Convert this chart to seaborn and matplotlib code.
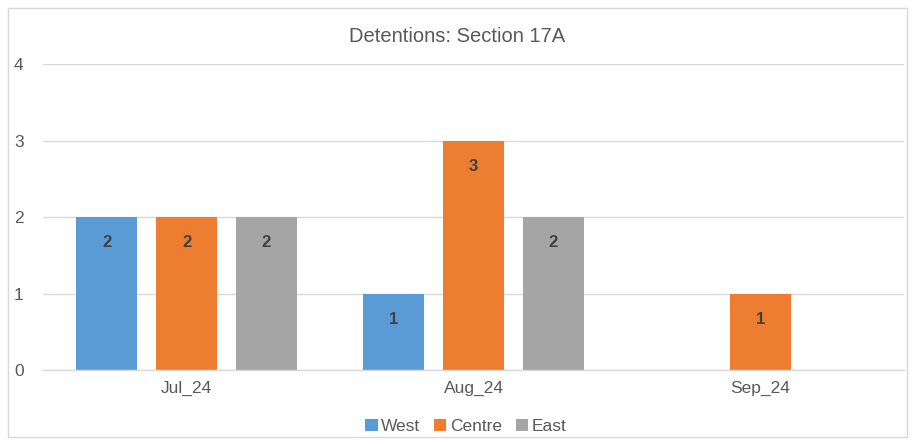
import matplotlib
matplotlib.use("Agg")
import matplotlib.pyplot as plt
import seaborn as sns
import pandas as pd
import numpy as np
from matplotlib.patches import Rectangle

months = ["Jul_24", "Aug_24", "Sep_24"]
regions = ["West", "Centre", "East"]
west = [2, 1, np.nan]
centre = [2, 3, 1]
east = [2, 2, np.nan]
colors = ["#5B9BD5", "#ED7D31", "#A5A5A5"]

df = pd.DataFrame({
    "Month": months * 3,
    "Region": [r for r in regions for _ in months],
    "Count": west + centre + east,
})

sns.set_theme(style="white")
plt.rcParams["font.family"] = ["Liberation Sans", "DejaVu Sans"]

fig = plt.figure(figsize=(9.15, 4.44), dpi=100)
ax = fig.add_axes([0.047, 0.1667, 0.941, 0.689])

sns.barplot(data=df, x="Month", y="Count", hue="Region", hue_order=regions,
            order=months, palette=colors, width=0.836, gap=0.226,
            saturation=1, linewidth=0, ax=ax, legend=True)

for cont in ax.containers:
    ax.bar_label(cont, fmt="%g", label_type="edge", padding=-24,
                 fontsize=12, fontweight="bold", color="#404040")

ax.set_ylim(0, 4)
ax.set_xlim(-0.5, 2.5)
ax.set_yticks([0, 1, 2, 3, 4])
ax.yaxis.grid(True, color="#D9D9D9", linewidth=1)
ax.set_axisbelow(True)
for s in ["top", "right", "left"]:
    ax.spines[s].set_visible(False)
ax.spines["bottom"].set_color("#D9D9D9")
ax.spines["bottom"].set_linewidth(1)
ax.tick_params(axis="both", length=0, labelsize=12.5, colors="#595959")
ax.tick_params(axis="y", pad=14)
ax.tick_params(axis="x", pad=8)
ax.set_xlabel("")
ax.set_ylabel("")

fig.text(0.5, 0.918, "Detentions: Section 17A", ha="center", va="center",
         fontsize=14.5, color="#595959")

handles, labels = ax.get_legend_handles_labels()
ax.legend_.remove()
fig.legend(handles, labels, loc="center", bbox_to_anchor=(0.509, 0.040),
           ncol=3, frameon=False, fontsize=12.5, handlelength=0.7,
           handleheight=0.7, handletextpad=0.2, columnspacing=0.8,
           labelcolor="#595959")

fig.patches.append(Rectangle((8 / 915, 7 / 444), 899 / 915, 429 / 444,
                             transform=fig.transFigure, fill=False,
                             edgecolor="#D9D9D9", linewidth=1))

fig.savefig("out.png", dpi=100, facecolor="white")
